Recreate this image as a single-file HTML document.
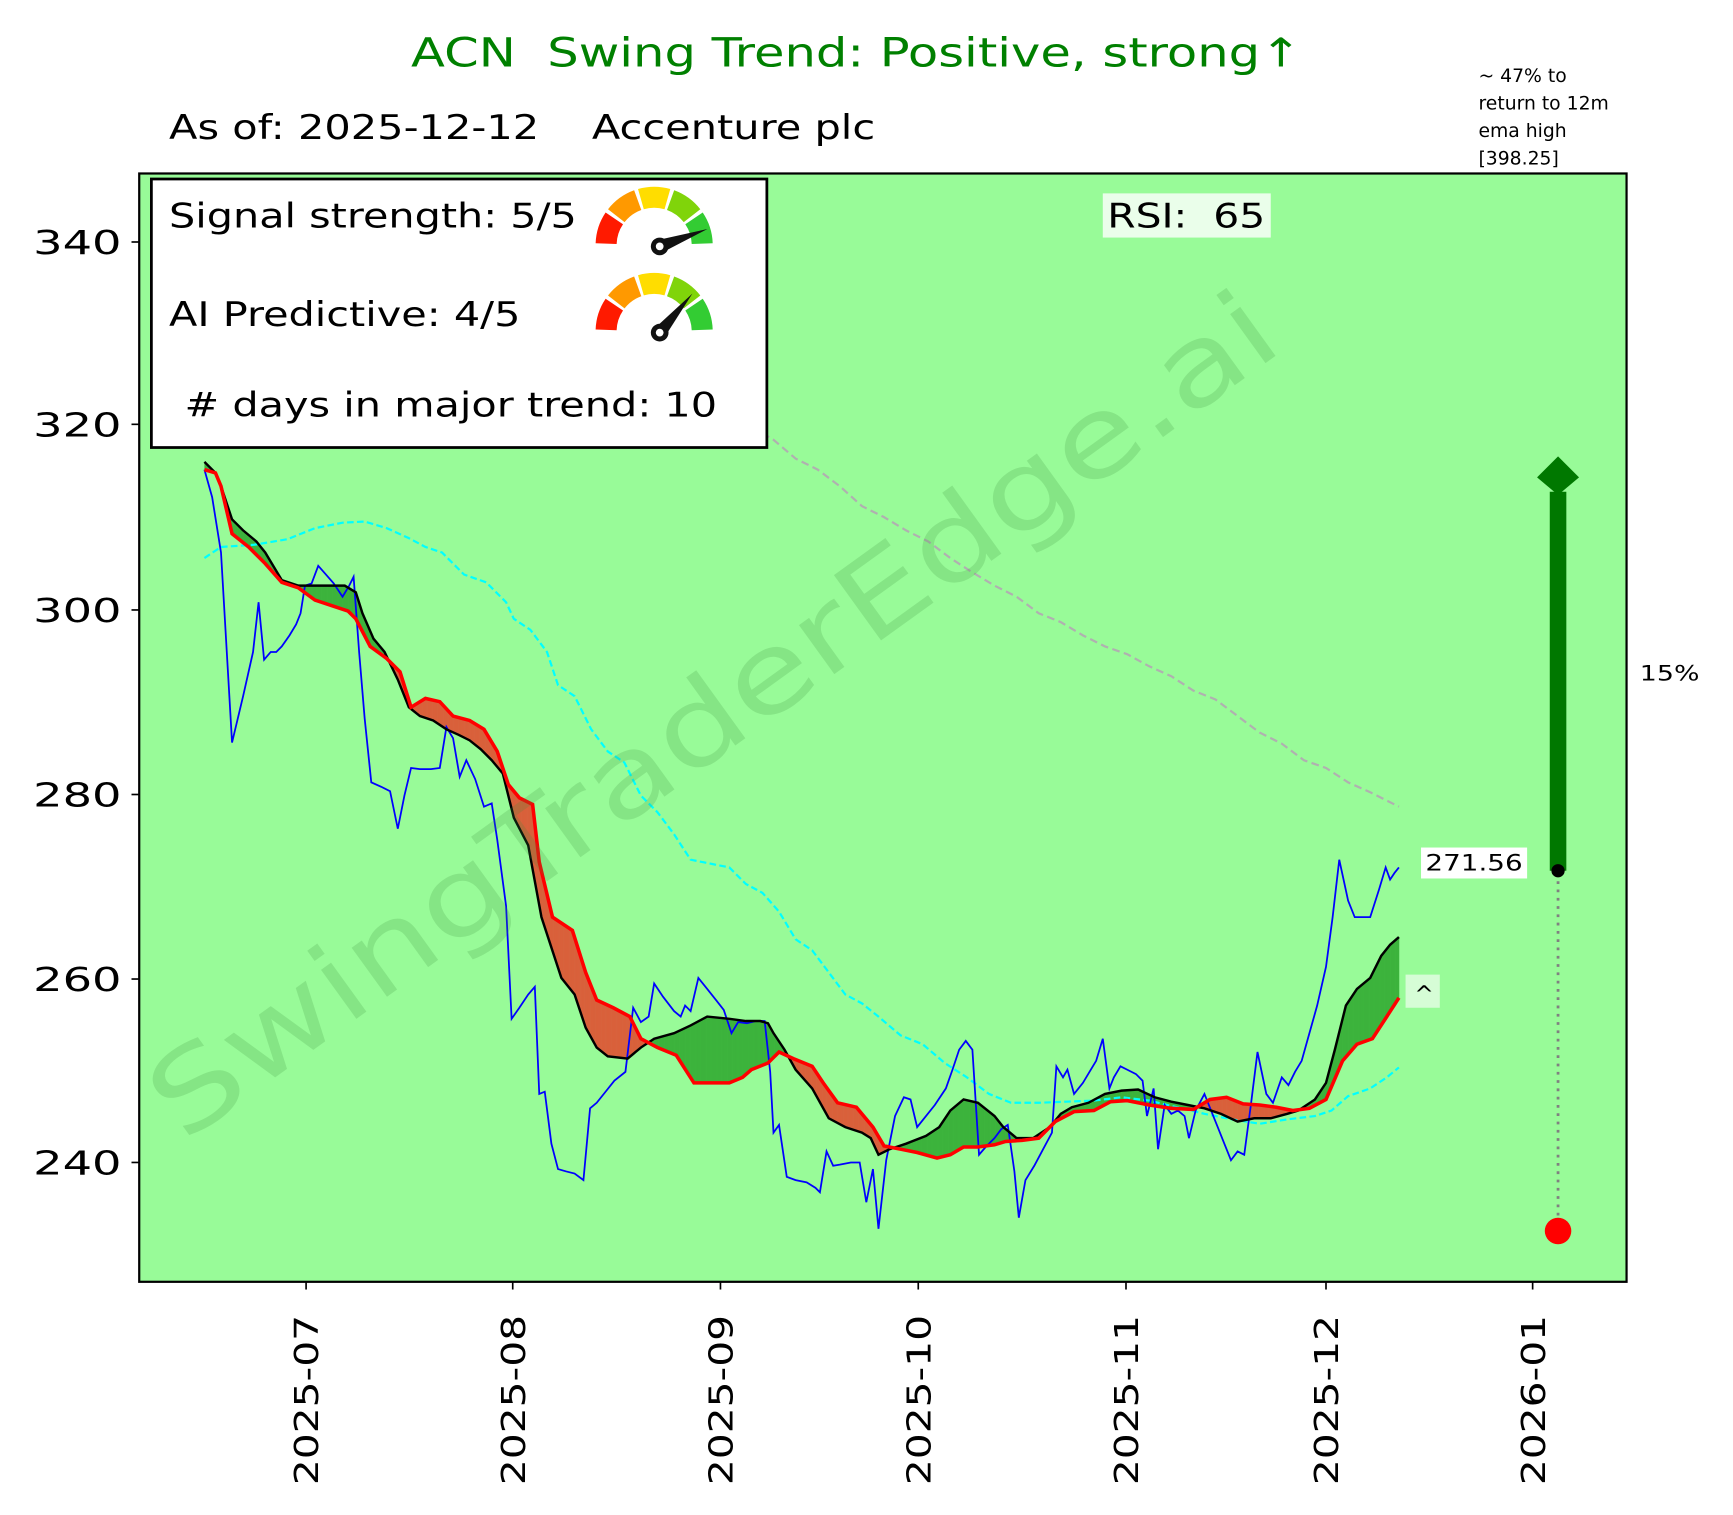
<!DOCTYPE html>
<html><head><meta charset="utf-8"><style>
html,body{margin:0;padding:0;background:#fff}
svg{display:block}
text{font-family:"DejaVu Sans","Liberation Sans",sans-serif}
</style></head><body>
<svg id="s" width="1733" height="1515" viewBox="0 0 1733 1515" xmlns="http://www.w3.org/2000/svg">
<rect width="1733" height="1515" fill="#fff"/>
<g transform="scale(1.105)">
<text x="372" y="60" font-size="36" fill="#008000" textLength="806" lengthAdjust="spacingAndGlyphs" xml:space="preserve">ACN  Swing Trend: Positive, strong↑</text>
<text x="153" y="126" font-size="31" fill="#000" textLength="639" lengthAdjust="spacingAndGlyphs" xml:space="preserve">As of: 2025-12-12    Accenture plc</text>
<text font-size="17" fill="#000"><tspan x="1338" y="74">~ 47% to</tspan><tspan x="1338" y="99">return to 12m</tspan><tspan x="1338" y="124">ema high</tspan><tspan x="1338" y="149">[398.25]</tspan></text>
<rect x="126" y="157" width="1346" height="1003" fill="#98fb98"/>
<g id="plot"></g>
<text x="665" y="675" font-size="100" fill="#3a8f3a" fill-opacity="0.2" text-anchor="middle" textLength="1230" lengthAdjust="spacingAndGlyphs" transform="rotate(-35.8 665 675)">SwingTraderEdge.ai</text>
<rect x="137" y="162" width="557" height="243" fill="#fff" stroke="#000" stroke-width="2.5"/>
<text x="153" y="206" font-size="31" textLength="369" lengthAdjust="spacingAndGlyphs">Signal strength: 5/5</text>
<text x="153" y="295" font-size="31" textLength="318" lengthAdjust="spacingAndGlyphs">AI Predictive: 4/5</text>
<text x="167" y="377" font-size="31" textLength="482" lengthAdjust="spacingAndGlyphs"># days in major trend: 10</text>
<g id="g1"></g><g id="g2"></g>
<rect x="998" y="175" width="152" height="40" fill="#fff" fill-opacity="0.8"/>
<text x="1002" y="206" font-size="31" textLength="143" lengthAdjust="spacingAndGlyphs" xml:space="preserve">RSI:  65</text>
<line x1="1410" y1="788" x2="1410" y2="445" stroke="#007800" stroke-width="15"/>
<polygon points="1410,413 1429,432 1410,448 1391,432" fill="#007800"/>
<line x1="1410" y1="790" x2="1410" y2="1105" stroke="#808080" stroke-width="2.5" stroke-dasharray="2.5,5"/>
<circle cx="1410" cy="788" r="6" fill="#000"/>
<circle cx="1410" cy="1114" r="12" fill="#f00"/>
<rect x="1286" y="767" width="96" height="28" fill="#fff"/>
<text x="1290" y="788" font-size="20" textLength="88" lengthAdjust="spacingAndGlyphs">271.56</text>
<text x="1484" y="616" font-size="19" textLength="54" lengthAdjust="spacingAndGlyphs">15%</text>
<rect x="1272" y="882" width="31" height="30" fill="#fff" fill-opacity="0.6"/>
<text x="1280" y="907" font-size="21">^</text>
<rect x="126" y="157" width="1346" height="1003" fill="none" stroke="#000" stroke-width="2"/>
<g id="ticks" font-size="30"></g>
</g>
</svg>
<script>
const NS="http://www.w3.org/2000/svg";
function el(p,t,a){const e=document.createElementNS(NS,t);for(const k in a)e.setAttribute(k,a[k]);p.appendChild(e);return e;}
const plot=document.getElementById('plot');
const pts=s=>s.map(p=>p.join(',')).join(' ');
const blue=[[185,425],[192,450],[200,500],[210,672],[220,630],[229,590],[234,545],[239,597],[245,590],[250,590],[255,585],[262,575],[268,565],[272,555],[276,530],[282,528],[288,512],[295,520],[302,528],[310,540],[316,530],[320,522],[325,590],[330,650],[336,708],[345,712],[353,716],[360,750],[366,720],[372,695],[380,696],[390,696],[398,695],[404,658],[410,668],[416,703],[422,688],[430,705],[438,730],[445,727],[450,760],[458,820],[463,922],[470,912],[478,900],[484,893],[488,990],[493,988],[499,1035],[505,1058],[512,1060],[520,1062],[528,1068],[534,1003],[540,998],[548,988],[556,978],[566,970],[573,912],[580,925],[587,920],[592,890],[600,902],[610,915],[616,920],[620,910],[625,915],[632,885],[640,895],[648,905],[655,914],[662,935],[668,925],[676,926],[684,924],[692,924],[697,970],[700,1025],[705,1018],[712,1065],[720,1068],[730,1070],[738,1075],[742,1079],[748,1042],[754,1055],[760,1054],[770,1052],[778,1052],[784,1088],[790,1058],[795,1112],[802,1050],[810,1010],[818,993],[824,995],[830,1020],[838,1010],[846,1000],[856,985],[862,968],[868,950],[874,942],[880,950],[886,1045],[892,1038],[900,1030],[906,1022],[912,1018],[918,1060],[922,1102],[928,1068],[936,1055],[944,1040],[952,1025],[956,965],[962,975],[966,968],[972,990],[980,980],[986,970],[992,960],[998,940],[1004,985],[1008,975],[1014,965],[1020,968],[1028,972],[1034,978],[1038,1010],[1044,985],[1048,1040],[1054,1000],[1060,1008],[1066,1005],[1072,1010],[1076,1030],[1082,1005],[1090,990],[1096,1005],[1102,1020],[1108,1035],[1114,1050],[1120,1042],[1126,1045],[1132,1000],[1138,952],[1146,990],[1152,998],[1160,975],[1166,982],[1172,970],[1178,960],[1185,935],[1192,910],[1200,875],[1206,830],[1212,778],[1220,815],[1226,830],[1240,830],[1248,805],[1254,785],[1258,796],[1262,790],[1266,785]];
const black=[[185,418],[195,428],[200,440],[210,470],[220,480],[232,490],[240,500],[255,525],[270,530],[285,530],[300,530],[312,530],[322,536],[328,555],[338,578],[348,590],[360,615],[370,640],[380,648],[392,652],[404,660],[415,665],[425,670],[435,678],[445,688],[455,700],[465,740],[478,765],[490,830],[508,885],[520,900],[530,930],[540,948],[550,956],[568,958],[580,948],[592,940],[610,935],[625,928],[640,920],[660,922],[675,924],[688,924],[695,926],[700,935],[710,950],[720,968],[735,985],[750,1012],[765,1020],[780,1025],[788,1030],[795,1045],[805,1040],[820,1035],[838,1028],[850,1020],[860,1005],[872,995],[885,998],[900,1010],[908,1020],[920,1030],[935,1030],[950,1020],[960,1008],[970,1002],[985,998],[1000,990],[1015,987],[1030,986],[1045,993],[1060,997],[1075,1000],[1090,1003],[1105,1008],[1120,1015],[1135,1012],[1150,1012],[1165,1008],[1175,1005],[1190,995],[1200,980],[1208,950],[1218,910],[1228,895],[1240,885],[1250,865],[1258,855],[1266,848]];
const red=[[185,425],[195,428],[200,440],[210,483],[225,495],[240,510],[255,527],[270,532],[285,543],[300,548],[315,553],[322,560],[335,585],[350,596],[362,608],[372,640],[385,632],[398,635],[410,648],[425,652],[438,660],[450,680],[460,710],[470,722],[482,728],[488,780],[500,830],[518,842],[530,880],[540,905],[555,912],[570,920],[580,940],[595,948],[612,955],[628,980],[645,980],[660,980],[672,975],[680,968],[695,962],[705,952],[718,958],[735,965],[745,980],[758,998],[775,1002],[790,1020],[800,1037],[815,1040],[830,1043],[848,1048],[860,1045],[872,1038],[885,1038],[900,1036],[910,1033],[925,1032],[940,1030],[955,1015],[972,1006],[990,1005],[1005,997],[1020,996],[1040,1000],[1060,1003],[1080,1004],[1095,995],[1110,993],[1125,999],[1140,1000],[1155,1002],[1170,1005],[1185,1003],[1200,995],[1215,960],[1228,945],[1242,940],[1255,920],[1266,903]];
const cyan=[[185,505],[200,495],[230,493],[260,488],[285,478],[310,473],[330,472],[350,478],[370,487],[385,495],[400,500],[420,520],[440,527],[458,545],[465,560],[480,570],[495,590],[505,620],[520,630],[535,660],[550,680],[565,690],[580,720],[595,735],[610,755],[625,778],[645,782],[660,785],[675,800],[690,808],[705,825],[720,850],[735,860],[750,880],[765,900],[780,908],[795,920],[815,937],[835,945],[855,962],[875,975],[895,990],[915,998],[940,998],[965,997],[990,996],[1015,993],[1040,996],[1065,1002],[1090,1008],[1115,1013],[1140,1017],[1165,1013],[1190,1010],[1205,1005],[1220,992],[1240,985],[1255,975],[1266,966]];
const grey=[[690,392],[700,398],[720,415],[740,425],[760,440],[780,458],[800,468],[820,480],[840,490],[860,505],[880,518],[900,530],[920,540],[940,555],[960,563],[980,575],[1000,585],[1020,592],[1040,603],[1060,612],[1080,625],[1100,633],[1120,648],[1140,663],[1160,673],[1180,688],[1200,695],[1220,708],[1240,717],[1266,730]];
function interp(s,x){for(let i=0;i<s.length-1;i++){if(x>=s[i][0]&&x<=s[i+1][0]){const t=(x-s[i][0])/(s[i+1][0]-s[i][0]||1);return s[i][1]+t*(s[i+1][1]-s[i][1]);}}return s[s.length-1][1];}
for(let x=185;x<1266;x+=1){const x2=x+1;const b1=interp(black,x),b2=interp(black,x2),r1=interp(red,x),r2=interp(red,x2);
 const up=(b1+b2)<(r1+r2);
 el(plot,'polygon',{points:`${x},${b1} ${x2+0.3},${b2} ${x2+0.3},${r2} ${x},${r1}`,fill:up?'#3cb33c':'#d9603b'});}
el(plot,'polyline',{points:pts(grey),fill:'none',stroke:'#b0b0b0','stroke-width':2,'stroke-dasharray':'7,4'});
el(plot,'polyline',{points:pts(cyan),fill:'none',stroke:'#00ffff','stroke-width':2,'stroke-dasharray':'6,3'});
el(plot,'polyline',{points:pts(blue),fill:'none',stroke:'#0000ff','stroke-width':1.6});
el(plot,'polyline',{points:pts(black),fill:'none',stroke:'#000','stroke-width':2.2});
el(plot,'polyline',{points:pts(red),fill:'none',stroke:'#ff0000','stroke-width':3.2});
function gauge(g,cx,cy,ang){const cols=['#ff1a00','#ff9900','#ffdd00','#80d40a','#33cc33'];const R=53,r=34;
 for(let i=0;i<5;i++){const a0=Math.PI-(i*36+2)*Math.PI/180,a1=Math.PI-((i+1)*36-2)*Math.PI/180;
  const p=(a,rr)=>[cx+rr*Math.cos(a),cy-rr*Math.sin(a)];
  const [x0,y0]=p(a0,R),[x1,y1]=p(a1,R),[x2,y2]=p(a1,r),[x3,y3]=p(a0,r);
  el(g,'path',{d:`M${x0},${y0} A${R},${R} 0 0 1 ${x1},${y1} L${x2},${y2} A${r},${r} 0 0 0 ${x3},${y3}Z`,fill:cols[i]});}
 const px=cx+5,py=cy+1,a=ang*Math.PI/180,L=46;const tx=px+L*Math.cos(a),ty=py-L*Math.sin(a);
 const nx=-Math.sin(a)*6,ny=-Math.cos(a)*6;
 el(g,'polygon',{points:`${px+nx},${py+ny} ${tx},${ty} ${px-nx},${py-ny}`,fill:'#111'});
 el(g,'circle',{cx:px,cy:py,r:8,fill:'#111'});el(g,'circle',{cx:px,cy:py,r:3.5,fill:'#fff'});}
gauge(document.getElementById('g1'),592,222,20);
gauge(document.getElementById('g2'),592,300,50);
const tk=document.getElementById('ticks');
[[340,219],[320,384],[300,552],[280,719],[260,886],[240,1052]].forEach(([v,y])=>{
 el(tk,'line',{x1:119,y1:y,x2:126,y2:y,stroke:'#000','stroke-width':1.5});
 const t=el(tk,'text',{x:110,y:y+11,'text-anchor':'end',textLength:80,lengthAdjust:'spacingAndGlyphs'});t.textContent=v;});
[['2025-07',277],['2025-08',464],['2025-09',652],['2025-10',831],['2025-11',1019],['2025-12',1200],['2026-01',1387]].forEach(([s,x])=>{
 el(tk,'line',{x1:x,y1:1160,x2:x,y2:1167,stroke:'#000','stroke-width':1.5});
 const t=el(tk,'text',{x:0,y:0,'text-anchor':'end',textLength:154,lengthAdjust:'spacingAndGlyphs',transform:`translate(${x+11},1190) rotate(-90)`});t.textContent=s;});
</script>
</body></html>
